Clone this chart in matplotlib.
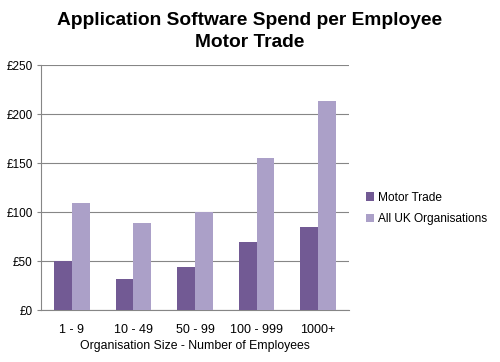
import matplotlib
matplotlib.use("Agg")
import matplotlib.pyplot as plt
import numpy as np

categories = ["1 - 9", "10 - 49", "50 - 99", "100 - 999", "1000+"]
motor_trade = [50, 32, 44, 69, 85]
all_uk = [109, 89, 100, 155, 213]
yticks = [0, 50, 100, 150, 200, 250]
ytick_labels = ["£0", "£50", "£100", "£150", "£200", "£250"]

plt.rcParams['font.family'] = ['Liberation Sans', 'DejaVu Sans']

fig = plt.figure(figsize=(5, 3.62), dpi=100)
ax = fig.add_axes([0.082, 0.1436, 0.616, 0.6768])

x = np.arange(len(categories))
w = 0.29
ax.bar(x - w/2, motor_trade, w, color="#725A94", label="Motor Trade", zorder=3)
ax.bar(x + w/2, all_uk, w, color="#ABA0C8", label="All UK Organisations", zorder=3)

ax.set_xlim(-0.5, len(categories) - 0.5)
ax.set_ylim(0, 250)
ax.set_yticks(yticks)
ax.set_yticklabels(ytick_labels, fontsize=8.5)
ax.set_xticks(x)
ax.set_xticklabels(categories, fontsize=9)
ax.tick_params(axis='x', length=0, pad=10)
ax.tick_params(axis='y', length=3, color="#868686", pad=3)
ax.grid(axis='y', color="#868686", linewidth=0.8, zorder=0)
for s in ["top", "right"]:
    ax.spines[s].set_visible(False)
for s in ["left", "bottom"]:
    ax.spines[s].set_color("#868686")
    ax.spines[s].set_linewidth(0.8)
ax.set_xlabel("Organisation Size - Number of Employees", fontsize=8.8, labelpad=3)

fig.text(0.5, 0.968, "Application Software Spend per Employee\nMotor Trade",
         ha='center', va='top', fontsize=13.8, fontweight='bold', linespacing=1.45)

ax.legend(loc='center left', bbox_to_anchor=(1.02, 0.414), frameon=False,
          fontsize=8.6, handlelength=0.7, handleheight=0.7, handletextpad=0.3,
          labelspacing=0.8)

fig.savefig("out.png", dpi=100)
